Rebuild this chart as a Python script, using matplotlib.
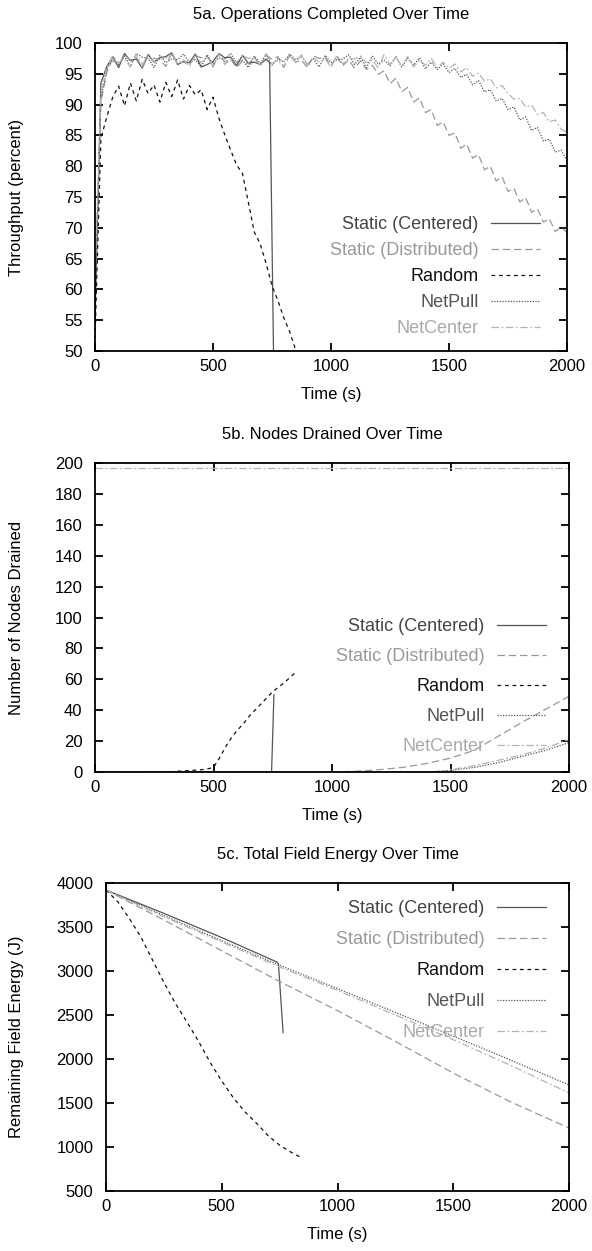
import numpy as np
import matplotlib
matplotlib.use("Agg")
import matplotlib.pyplot as plt

plt.rcParams['font.family'] = ['Liberation Sans', 'DejaVu Sans']
plt.rcParams['font.size'] = 12

# ---- series names / styles ----
names = ["Static (Centered)", "Static (Distributed)", "Random", "NetPull", "NetCenter"]
line_colors = ["#555555", "#999999", "#111111", "#555555", "#b4b4b4"]
text_colors = ["#444444", "#999999", "#111111", "#555555", "#aaaaaa"]
dashes = [None, (6, 3), (3, 3), (1, 1.2), (6, 2, 1.5, 2)]

# ---- 5a: throughput (percent) ----
t_a = np.arange(0, 2001, 25)
sc_a_time = [0, 25, 50, 75, 100, 125, 150, 175, 200, 225, 250, 275, 300, 325, 350,
             375, 400, 425, 450, 475, 500, 525, 550, 575, 600, 625, 650, 675, 700, 725,
             740, 757]
sc_a = [55, 93.5, 96.2, 97.8, 96.0, 98.3, 97.1, 97.4, 95.9, 98.1, 96.9, 97.6, 97.8, 98.4, 96.5,
        97.0, 96.8, 98.2, 96.1, 96.5, 97.0, 98.3, 97.6, 97.7, 96.3, 98.0, 96.7, 96.9, 96.5, 97.4,
        96.8, 48]
rnd_a_time = np.arange(0, 851, 25)
rnd_a = [52, 84.5, 88.0, 91.2, 93.0, 89.8, 93.5, 90.6, 94.1, 91.8, 93.2, 90.4, 93.6, 91.3,
         94.0, 90.9, 93.1, 91.6, 92.4, 89.2, 91.2, 87.8, 85.1, 82.6, 80.2, 78.8, 74.1, 69.3,
         67.4, 64.2, 60.6, 58.2, 55.4, 53.1, 50.2]
sd_a = [60, 90.5, 95.2, 97.6, 96.3, 98.1, 97.2, 97.7, 96.0, 98.2,
        97.5, 97.3, 96.2, 98.4, 96.7, 96.9, 96.4, 98.0, 97.6, 97.9,
        96.1, 98.2, 96.9, 97.4, 96.0, 97.1, 96.6, 97.7, 96.3, 98.0,
        97.4, 97.8, 96.1, 98.1, 96.9, 97.2, 96.0, 97.9, 97.5, 97.7,
        96.2, 97.8, 96.3, 97.3, 95.9, 97.1, 95.7,
        96.4, 94.9, 95.5, 93.4, 94.3, 92.1, 92.8, 90.4, 91.1, 88.7,
        89.2, 86.6, 87.2, 85.0, 85.4, 82.9, 83.6, 81.3, 81.9, 79.4,
        80.0, 77.6, 78.3, 75.9, 76.4, 74.2, 74.9, 72.5, 73.1, 70.9,
        71.5, 69.4, 70.1, 69.2]
np_a = [58, 91.0, 95.8, 97.2, 96.5, 97.9, 96.2, 98.3, 97.7, 97.5,
        96.0, 98.0, 96.8, 97.4, 97.3, 98.2, 96.9, 97.3, 96.1, 98.1,
        96.6, 97.6, 97.4, 98.3, 96.8, 97.2, 96.0, 97.9, 96.7, 98.1,
        96.4, 97.5, 96.9, 98.2, 97.3, 97.8, 96.6, 97.4, 96.1, 98.0,
        96.8, 97.3, 97.4, 98.1, 96.5, 97.7, 96.0, 97.9, 96.6, 97.2,
        96.3, 97.8, 96.1, 97.5, 96.4, 97.6, 95.8, 96.9, 95.7, 96.6,
        95.2, 95.9, 94.4, 94.9, 93.2, 93.9, 92.1, 92.4, 90.6, 91.0,
        89.2, 89.6, 87.5, 88.0, 85.8, 86.3, 84.1, 84.4, 82.3, 82.6,
        80.9]
nc_a = [62, 92.0, 96.0, 97.9, 96.8, 97.4, 96.1, 98.2, 96.5, 97.8,
        96.9, 97.5, 97.6, 98.1, 96.6, 97.3, 96.2, 98.0, 96.8, 97.6,
        96.3, 98.2, 96.5, 97.4, 96.9, 98.0, 97.5, 97.6, 96.4, 98.3,
        96.7, 97.2, 96.0, 97.9, 96.8, 98.1, 96.3, 97.6, 96.9, 97.4,
        96.1, 98.0, 96.6, 97.5, 97.4, 97.9, 96.8, 97.3, 96.0, 98.1,
        96.5, 97.6, 96.3, 97.8, 96.1, 97.2, 96.4, 97.5, 96.0, 96.9,
        95.9, 96.6, 95.3, 96.0, 94.6, 95.1, 93.8, 94.2, 92.7, 93.1,
        91.8, 90.9, 91.0, 89.6, 89.9, 88.4, 88.7, 87.2, 87.5, 86.0,
        85.5]

# ---- 5b: nodes drained ----
sc_b_time = [0, 745, 755]
sc_b = [0, 0, 50]
rnd_b_time = [0, 300, 350, 400, 450, 475, 500, 525, 550, 575, 600, 625, 650, 700, 750, 800, 850]
rnd_b = [0, 0, 0.5, 1, 1.5, 2, 3, 9, 16, 22, 27, 31, 36, 44, 52, 58, 65]
sd_b_time = [0, 1000, 1100, 1200, 1300, 1400, 1500, 1600, 1700, 1800, 1900, 2000]
sd_b = [0, 0, 0.5, 1.5, 3, 5.5, 9, 14, 23, 32, 40.5, 49]
np_b_time = [0, 1400, 1500, 1600, 1700, 1800, 1900, 2000]
np_b = [0, 0, 1, 3, 6, 10, 14, 19]
nc_b_time = [0, 1450, 1500, 1600, 1700, 1800, 1900, 2000]
nc_b = [0, 0, 1.5, 4, 7.5, 11, 15.5, 21]
total_nodes_b = 197

# ---- 5c: field energy (J) ----
sc_c_time = [0, 250, 500, 740, 745, 765]
sc_c = [3920, 3655, 3380, 3100, 3080, 2300]
rnd_c_time = [0, 50, 100, 150, 200, 250, 300, 350, 400, 450, 500, 550, 600, 650, 700, 750, 800, 850]
rnd_c = [3920, 3790, 3600, 3390, 3130, 2870, 2630, 2420, 2200, 1960, 1750, 1560, 1400, 1270, 1130,
         1020, 940, 870]
c_time = [0, 250, 500, 750, 1000, 1250, 1500, 1750, 2000]
sd_c = [3920, 3580, 3230, 2880, 2550, 2200, 1840, 1510, 1216]
np_c = [3920, 3630, 3345, 3065, 2800, 2530, 2260, 1985, 1705]
nc_c = [3920, 3615, 3330, 3045, 2780, 2500, 2220, 1925, 1614]


def draw(ax, x, y, i, label=True):
    line, = ax.plot(x, y, color=line_colors[i], lw=0.9, label=names[i] if label else None)
    if dashes[i] is not None:
        line.set_dashes(dashes[i])
    return line


def style(ax, title, ylabel, ylim, yticks, ylab_x, leg_anchor, leg_loc, spacing):
    ax.set_xlim(0, 2000)
    ax.set_ylim(*ylim)
    ax.set_xticks([0, 500, 1000, 1500, 2000])
    ax.set_yticks(yticks)
    ax.tick_params(direction='in', top=True, right=True, length=6, width=1.3,
                   labelsize=12)
    ax.tick_params(axis='x', pad=6)
    ax.tick_params(axis='y', pad=9)
    for s in ax.spines.values():
        s.set_linewidth(1.3)
    ax.set_title(title, fontsize=12, pad=17)
    ax.set_xlabel("Time (s)", fontsize=12, labelpad=9)
    ax.set_ylabel(ylabel, fontsize=12)
    ax.yaxis.set_label_coords(ylab_x, 0.5)
    leg = ax.legend(loc=leg_loc, bbox_to_anchor=leg_anchor, frameon=False,
                    markerfirst=False, handlelength=2.7, handletextpad=0.7,
                    borderpad=0, borderaxespad=0, labelspacing=spacing,
                    labelcolor=text_colors, fontsize=13)
    for t in leg.get_texts():
        t.set_ha('right')


fig = plt.figure(figsize=(5.92, 12.51), dpi=100)

# 5a
ax1 = fig.add_axes([95 / 592, 1 - 351 / 1251, 472 / 592, 308 / 1251])
draw(ax1, sc_a_time, sc_a, 0)
draw(ax1, t_a, sd_a, 1)
draw(ax1, rnd_a_time, rnd_a, 2)
draw(ax1, t_a, np_a, 3)
draw(ax1, t_a, nc_a, 4)
style(ax1, "5a. Operations Completed Over Time", "Throughput (percent)", (50, 100),
      np.arange(50, 101, 5), -0.15, (0.943, 0.045), 'lower right', 0.5)

# 5b
ax2 = fig.add_axes([95 / 592, 1 - 772 / 1251, 474 / 592, 309 / 1251])
draw(ax2, sc_b_time, sc_b, 0)
draw(ax2, sd_b_time, sd_b, 1)
draw(ax2, rnd_b_time, rnd_b, 2)
draw(ax2, np_b_time, np_b, 3)
draw(ax2, nc_b_time, nc_b, 4)
draw(ax2, [0, 2000], [total_nodes_b, total_nodes_b], 4, label=False)
style(ax2, "5b. Nodes Drained Over Time", "Number of Nodes Drained", (0, 200),
      np.arange(0, 201, 20), -0.15, (0.951, 0.055), 'lower right', 0.72)

# 5c
ax3 = fig.add_axes([106 / 592, 1 - 1191 / 1251, 463 / 592, 308 / 1251])
draw(ax3, sc_c_time, sc_c, 0)
draw(ax3, c_time, sd_c, 1)
draw(ax3, rnd_c_time, rnd_c, 2)
draw(ax3, c_time, np_c, 3)
draw(ax3, c_time, nc_c, 4)
style(ax3, "5c. Total Field Energy Over Time", "Remaining Field Energy (J)", (500, 4000),
      np.arange(500, 4001, 500), -0.178, (0.950, 0.945), 'upper right', 0.78)

fig.savefig("out.png", dpi=100)
